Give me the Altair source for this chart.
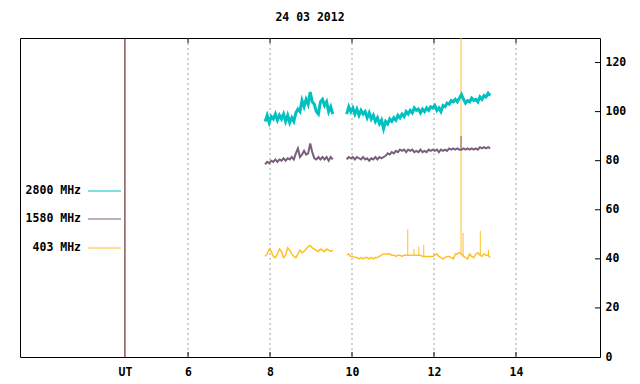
import altair as alt
import pandas as pd

# ---------------- data ----------------
x_ticks = [6, 8, 10, 12, 14]
ut_pos = 4.46
y_ticks = [20, 40, 60, 80, 100, 120]

step = 0.05
seg1_start = 7.88
seg2_start = 9.87

c2800_s1 = [96, 98.5, 95.5, 98, 97, 99, 96.5, 98.5, 97, 99, 96, 98.5, 95.5, 97.5, 96, 99.5,
            101, 100, 104.5, 102, 105, 103, 108, 104, 103, 100, 99, 104, 105, 102.5, 104, 100, 102, 99]
c2800_s2 = [99, 102, 100, 101.5, 99, 101, 98.5, 100.5, 99, 100, 97.5, 99.5, 97, 98.5, 96, 97.5,
            95, 96.5, 93, 96, 95, 97, 96, 97.5, 96.5, 98.5, 97.5, 99, 98, 100, 99, 100.5, 99.5,
            101.5, 100.5, 101, 99.5, 101, 100, 101.5, 100.5, 102, 101.5, 102.5, 100.5, 101.5, 100,
            102.5, 102, 103.5, 103, 104.5, 104, 105, 104, 105.5, 107, 105, 103.5, 104.5, 104, 105.5,
            104.5, 105, 104, 106, 105, 106.5, 106, 107.5, 106.5]

c1580_s1 = [78.5, 79.5, 79, 80, 79.5, 80.5, 79.5, 80.5, 80, 81, 80, 81, 80.5, 81.5, 80.5, 83,
            85, 81.5, 82.5, 84, 82.5, 83, 87, 83.5, 81, 80.5, 81.5, 80.5, 81.5, 80.5, 81.5, 80, 81.5, 80.5]
c1580_s2 = [80.5, 81.5, 81, 81.5, 80.5, 81.5, 81, 80.5, 81.5, 80.5, 81, 80, 81, 80.5, 81.5, 80.5,
            81.5, 81, 81.5, 82, 83, 82.5, 83.5, 83, 84, 83.5, 84.5, 84, 84.5, 83.5, 84.5, 84, 84.5,
            83.5, 84, 83.5, 84.5, 83.5, 84, 83.5, 84.5, 84, 84.5, 84, 84.5, 83.5, 84.5, 84, 84.5,
            84, 85, 84.5, 85, 84.5, 85, 84.5, 84.5, 85, 84.5, 85, 84.5, 85, 84.5, 85, 84.5, 85.5, 85,
            85.5, 85, 85.5, 85]

c403_s1 = [41, 42, 44, 43, 41, 40.5, 42, 44, 43, 40.5, 41.5, 44.5, 43.5, 42, 41, 40.5, 42, 43.5,
           42.5, 43, 44, 45, 45.5, 44.5, 44, 43.5, 43, 44, 43.5, 43, 44, 43.5, 43, 43.5]
c403_s2 = [41.5, 42, 41, 41, 40.5, 40.5, 40, 40.5, 40, 40.5, 40.5, 40, 40.5, 40, 40.5, 40.5, 41,
           41.5, 42, 42, 42, 42, 41.5, 41.5, 41, 41.5, 41.5, 41, 41.5, 41.5, 41.5, 41.5, 41.5, 41.5,
           41.5, 41.5, 41.5, 41, 41, 41, 41, 41, 41, 41.5, 42, 41, 40.5, 40, 40.5, 41, 41, 40.5,
           40, 42, 42, 42.5, 42, 41, 40.5, 40, 42, 41, 40.5, 42, 42.5, 41.5, 41, 42, 41.5, 41.5, 40.5]

# narrow interference spikes: series, time, base level, peak level
spike_series = ["403 MHz"] * 8 + ["1580 MHz"]
spike_t = [11.36, 11.51, 11.63, 11.75, 12.66, 12.71, 13.13, 13.33, 12.66]
spike_base = [41.5, 41.5, 41.5, 41, 42, 41, 41.5, 41.5, 84.5]
spike_top = [52, 44, 45, 45.7, 140, 50.6, 51.4, 43.7, 90]

series_names = ["2800 MHz", "1580 MHz", "403 MHz"]
series_colors = ["#00c0c0", "#7a5f7d", "#ffc020"]
series_widths = [3, 2, 1.5]

# ---------------- build tables ----------------
def table(s1, s2):
    rows = []
    for i, v in enumerate(s1):
        rows.append({"t": seg1_start + step * i, "v": v, "seg": 1})
    for i, v in enumerate(s2):
        rows.append({"t": seg2_start + step * i, "v": v, "seg": 2})
    return pd.DataFrame(rows)

df = {
    "2800 MHz": table(c2800_s1, c2800_s2),
    "1580 MHz": table(c1580_s1, c1580_s2),
    "403 MHz": table(c403_s1, c403_s2),
}
spikes = pd.DataFrame({"series": spike_series, "t": spike_t, "b": spike_base, "p": spike_top})

W, H = 580, 319
FONT = "DejaVu Sans Mono"
FS = 11.5

xs = alt.Scale(domain=[1.9, 16.05], nice=False, zero=False)
ys = alt.Scale(domain=[0, 130], nice=False, zero=True)

tick_df = pd.DataFrame({"x": x_ticks})
ytick_df = pd.DataFrame({"y": y_ticks})

base_axis_x = alt.Axis(values=[ut_pos] + x_ticks, labelExpr="datum.value < 5 ? 'UT' : datum.label",
                       tickSize=0, domain=False, grid=False, labelPadding=9, title=None,
                       labelFont=FONT, labelFontSize=FS, labelFontWeight="bold", labelColor="black")
base_axis_y = alt.Axis(orient="right", values=[0] + y_ticks, tickSize=0, domain=False, grid=False,
                       labelPadding=5, title=None, labelFont=FONT, labelFontSize=FS,
                       labelFontWeight="bold", labelColor="black")

grid = alt.Chart(tick_df).mark_rule(color="#a0a0a0", strokeDash=[2, 3], strokeWidth=1).encode(
    x=alt.X("x:Q", scale=xs, axis=base_axis_x)
)
ut_line = alt.Chart(pd.DataFrame({"x": [ut_pos]})).mark_rule(color="#500000", strokeWidth=1).encode(
    x=alt.X("x:Q", scale=xs)
)
bot_ticks = alt.Chart(tick_df).mark_rule(color="black").encode(
    x=alt.X("x:Q", scale=xs), y=alt.value(H - 5), y2=alt.value(H))
top_ticks = alt.Chart(tick_df).mark_rule(color="black").encode(
    x=alt.X("x:Q", scale=xs), y=alt.value(0), y2=alt.value(5))
right_ticks = alt.Chart(ytick_df).mark_rule(color="black").encode(
    y=alt.Y("y:Q", scale=ys, axis=base_axis_y), x=alt.value(W - 5), x2=alt.value(W))

layers = [grid, ut_line, bot_ticks, top_ticks, right_ticks]

# draw order: 403 underneath, then 1580, then 2800
for name in ["403 MHz", "1580 MHz", "2800 MHz"]:
    k = series_names.index(name)
    col = series_colors[k]
    sp = spikes[spikes.series == name]
    if len(sp):
        layers.append(alt.Chart(sp).mark_rule(color=col, strokeWidth=1, clip=True).encode(
            x=alt.X("t:Q", scale=xs), y=alt.Y("b:Q", scale=ys), y2="p:Q"))
    layers.append(
        alt.Chart(df[name]).mark_line(color=col, strokeWidth=series_widths[k], clip=True,
                                      interpolate="linear").encode(
            x=alt.X("t:Q", scale=xs),
            y=alt.Y("v:Q", scale=ys),
            detail="seg:N",
        )
    )

# legend inside the plot (left part)
leg_y = [153, 181, 210]
for name, col, py in zip(series_names, series_colors, leg_y):
    layers.append(alt.Chart(pd.DataFrame({"label": [name]})).mark_text(
        align="right", baseline="middle", font=FONT, fontSize=FS, fontWeight="bold", color="black"
    ).encode(text="label:N", x=alt.value(61), y=alt.value(py)))
    layers.append(alt.Chart(pd.DataFrame({"label": [name]})).mark_rule(color=col, strokeWidth=1).encode(
        x=alt.value(68), x2=alt.value(101), y=alt.value(py)))

# title
layers.append(alt.Chart(pd.DataFrame({"label": ["24 03 2012"]})).mark_text(
    align="center", baseline="middle", font=FONT, fontSize=FS, fontWeight="bold", color="black"
).encode(text="label:N", x=alt.value(W / 2), y=alt.value(-20)))

chart = alt.layer(*layers).properties(
    width=W, height=H,
    autosize=alt.AutoSizeParams(type="none"),
    padding={"left": 12, "top": 30, "right": 30, "bottom": 22},
    background="white",
).configure_view(stroke="black", strokeWidth=1)

chart.save("out.html", embed_options={"renderer": "svg", "actions": False})
